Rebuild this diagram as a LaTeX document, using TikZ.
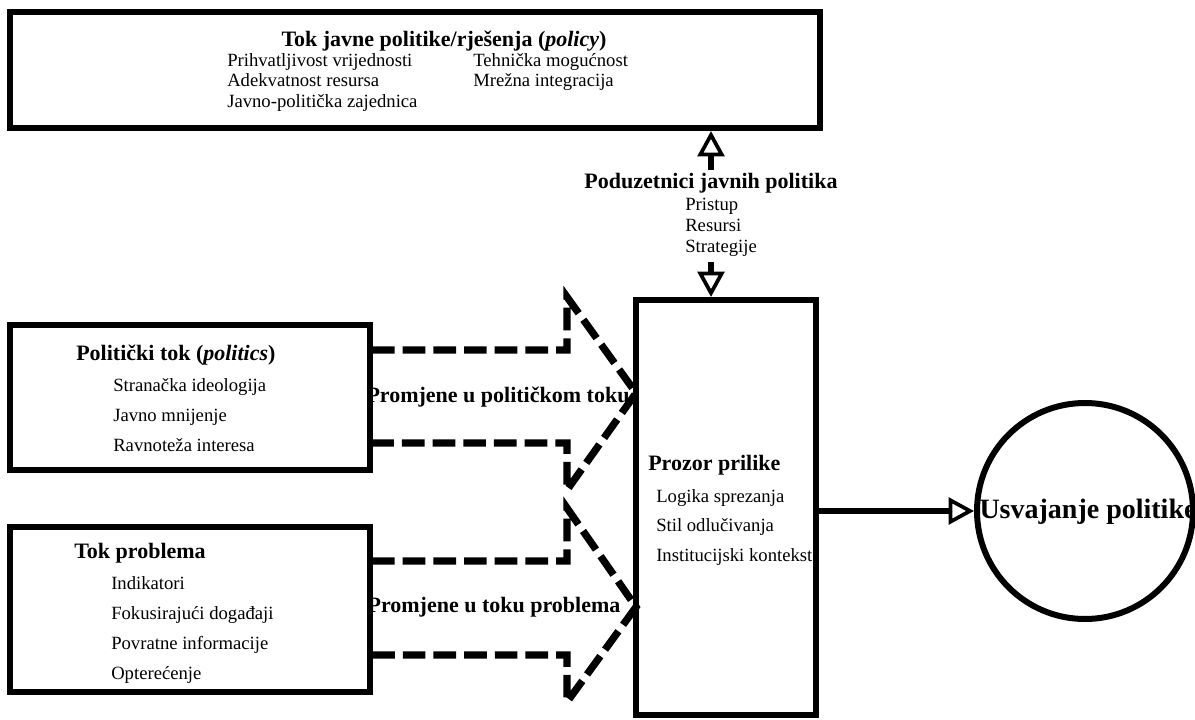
\documentclass[tikz,border=0pt]{standalone}
\usepackage{fontspec}
\setmainfont{Liberation Serif}
\usetikzlibrary{arrows.meta}

\begin{document}
\begin{tikzpicture}[x=0.75pt, y=-0.75pt,
  box/.style = {draw, line width=4.5pt, rectangle, inner sep=0pt},
  head/.style = {font=\fontsize{16.5}{19}\bfseries, inner sep=0pt},
  item/.style = {align=left, anchor=north west, inner sep=0pt},
  dashbig/.style = {line width=5.5pt, dash pattern=on 17pt off 6pt},
  openarrow/.style = {line width=4.5pt, -{Triangle[open, length=19pt, width=20pt, line width=2.8pt]}}]
\useasboundingbox (0,0) rectangle (1195,720);

% boxes
\node[box, minimum width=607.5pt, minimum height=87pt] (policy) at (415,70) {};
\node[box, minimum width=270pt, minimum height=108.75pt] (pol) at (190,397.5) {};
\node[box, minimum width=270pt, minimum height=123.75pt] (prob) at (190,609.5) {};
\node[box, minimum width=135pt, minimum height=311.25pt] (prozor) at (726,507.5) {};
\node[draw, circle, line width=4.5pt, minimum size=162pt, inner sep=0pt] (usv) at (1085,511) {};

% texts
\node[head] (policyhead) at (444,41) {Tok javne politike/rješenja (\textit{policy})};
\node[item, font=\fontsize{14}{15.4}\selectfont] (policyA) at (227,53) {Prihvatljivost vrijednosti\\Adekvatnost resursa\\Javno-politička zajednica};
\node[item, font=\fontsize{14}{15.4}\selectfont] (policyB) at (473,53) {Tehnička mogućnost\\Mrežna integracija};

\node[head] (poduz) at (711,183) {Poduzetnici javnih politika};
\node[item, font=\fontsize{14}{15.75}\selectfont] (poduzitems) at (685,198) {Pristup\\Resursi\\Strategije};

\node[head, anchor=west] (polhead) at (76,355) {Politički tok (\textit{politics})};
\node[item, font=\fontsize{14}{22.5}\selectfont] (politems) at (113,378) {Stranačka ideologija\\Javno mnijenje\\Ravnoteža interesa};

\node[head, anchor=west] (probhead) at (74,553) {Tok problema};
\node[item, font=\fontsize{14}{22.5}\selectfont] (probitems) at (111,576) {Indikatori\\Fokusirajući događaji\\Povratne informacije\\Opterećenje};

\node[head, anchor=west] (prozorhead) at (648,465) {Prozor prilike};
\node[item, font=\fontsize{14}{22.1}\selectfont] (prozoritems) at (656,489) {Logika sprezanja\\Stil odlučivanja\\Institucijski kontekst};

\node[head, font=\fontsize{21}{24}\bfseries] (usvtext) at (1088,512) {Usvajanje politike};

% big dashed arrows
\draw[dashbig] (372,350) -- (567,350) -- (567,297) -- (636,393) -- (567,490) -- (567,443) -- (372,443);
\node[head] (polchange) at (498,397) {Promjene u političkom toku};
\draw[dashbig] (372,561) -- (567,561) -- (567,508) -- (636,607) -- (567,702) -- (567,655) -- (372,655);
\node[head] (probchange) at (494,607) {Promjene u toku problema};

% connectors
\draw[openarrow] ([yshift=2pt]poduz.north) -- (poduz.north |- policy.south);
\draw[openarrow] ([yshift=-4pt]poduzitems.south -| poduz.north) -- (poduz.north |- prozor.north);
\draw[openarrow] (prozor.east |- usv.center) -- (usv.west);
\end{tikzpicture}
\end{document}
